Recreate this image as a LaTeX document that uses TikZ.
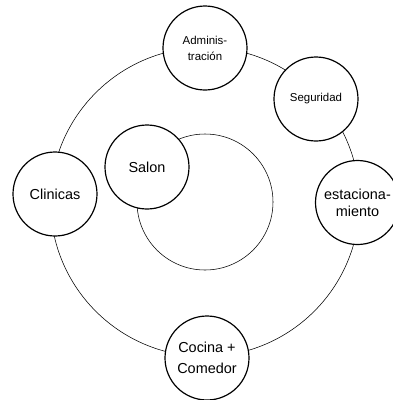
\documentclass[tikz,border=0pt]{standalone}
\usepackage{fontspec}
\setmainfont{Liberation Sans}
\begin{document}
\begin{tikzpicture}[x=1bp,y=-1bp,
  room/.style={circle,draw=black,line width=1.2pt,fill=white,minimum size=84bp,inner sep=0pt,align=center},
  big/.style={font=\fontsize{14.5}{17}\selectfont},
  small/.style={font=\fontsize{11.5}{16}\selectfont},
  thin/.style={draw=black,line width=0.55pt}]
\useasboundingbox (0,0) rectangle (393,400);
\clip (0,0) rectangle (393,400);
\coordinate (ringc) at (205,202);
\coordinate (innerc) at (205,202);
\draw[thin] (ringc) circle (154.5);
\draw[thin] (innerc) circle (68);
\node[room,small] (admin) at (205,48) {Adminis-\\tración};
\node[room,small] (seg) at (316,99) {Seguridad};
\node[room,big] (est) at (357.5,202.5) {estaciona-\\miento};
\node[room,font=\fontsize{14.5}{21}\selectfont] (coc) at (207,358) {Cocina +\\Comedor};
\node[room,big] (clin) at (55,194) {Clinicas};
\node[room,big] (salon) at (147,167) {Salon};
\end{tikzpicture}
\end{document}
